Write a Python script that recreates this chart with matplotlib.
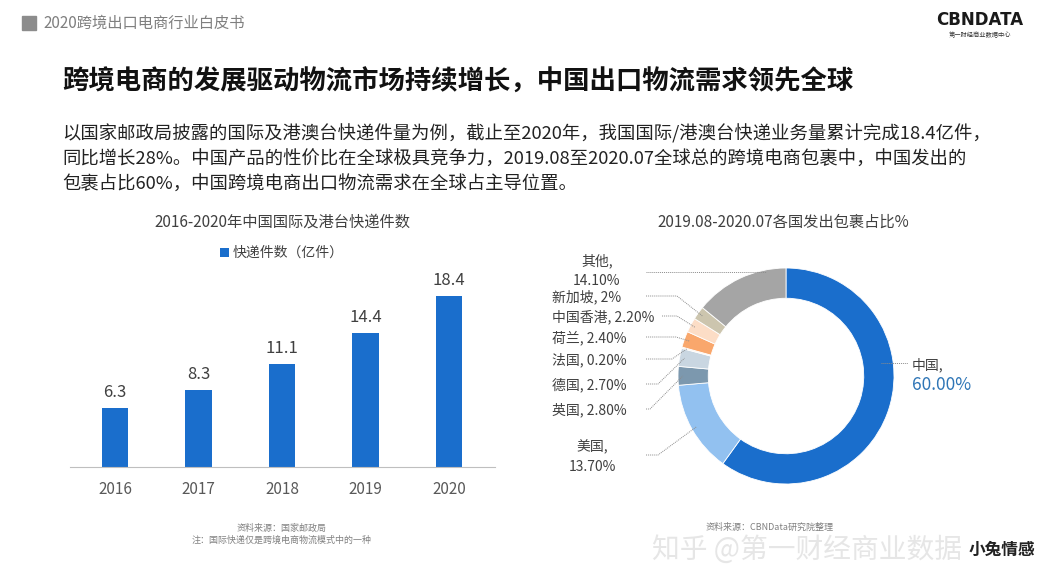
import numpy as np
import matplotlib
matplotlib.use("Agg")
import matplotlib.pyplot as plt

plt.rcParams['font.family'] = ['Noto Sans CJK SC', 'DejaVu Sans']

W, H = 1046, 580

# ----- data -----
years = ['2016', '2017', '2018', '2019', '2020']
parcels = [6.3, 8.3, 11.1, 14.4, 18.4]

countries = ['中国', '美国', '英国', '德国', '法国', '荷兰', '中国香港', '新加坡', '其他']
shares = [60.0, 13.7, 2.8, 2.7, 0.2, 2.4, 2.2, 2.0, 14.1]
share_labels = ['中国,\n60.00%', '美国,\n13.70%', '英国, 2.80%', '德国, 2.70%', '法国, 0.20%',
                '荷兰, 2.40%', '中国香港, 2.20%', '新加坡, 2%', '其他,\n14.10%']
colors = ['#1A6ECC', '#92C1F0', '#7C98AE', '#C9D6E1', '#F7EEE4',
          '#F9A76C', '#FCDDC6', '#CCC5AE', '#A5A5A5']

fig = plt.figure(figsize=(W / 100, H / 100), dpi=100)
fig.patch.set_facecolor('white')

# overlay axes in pixel units (y up)
ov = fig.add_axes([0, 0, 1, 1])
ov.set_xlim(0, W)
ov.set_ylim(0, H)
ov.axis('off')

def Y(y):
    return H - y

# ----- header -----
ov.add_patch(plt.Rectangle((22, Y(30)), 14, 14, color='#8C8C8C'))
ov.text(43, Y(23), '2020跨境出口电商行业白皮书', fontsize=11, color='#7F7F7F', va='center')
ov.text(980, Y(20), 'CBNDATA', fontsize=12, fontweight='bold', color='#1A1A1A',
        ha='center', va='center', family='DejaVu Sans')
ov.text(980, Y(35), '第一财经商业数据中心', fontsize=4.5, color='#333333', ha='center', va='center')

ov.text(62, Y(82), '跨境电商的发展驱动物流市场持续增长，中国出口物流需求领先全球',
        fontsize=19, fontweight='bold', color='#111111', va='center')

para = ['以国家邮政局披露的国际及港澳台快递件量为例，截止至2020年，我国国际/港澳台快递业务量累计完成18.4亿件，',
        '同比增长28%。中国产品的性价比在全球极具竞争力，2019.08至2020.07全球总的跨境电商包裹中，中国发出的',
        '包裹占比60%，中国跨境电商出口物流需求在全球占主导位置。']
for i, line in enumerate(para):
    ov.text(62, Y(134 + 25.5 * i), line, fontsize=13.2, color='#222222', va='center')

# ----- bar chart -----
ax = fig.add_axes([70 / W, 1 - 467 / H, 425 / W, 207 / H])
x = np.arange(len(years))
bars = ax.bar(x, parcels, width=0.32, color='#1A6ECC', label='快递件数（亿件）', zorder=2)
for xi, v in zip(x, parcels):
    ax.annotate(f'{v}', (xi, v), xytext=(0, 5), textcoords='offset points',
                ha='center', va='bottom', fontsize=12, color='#404040')
ax.set_xlim(-0.54, 4.55)
ax.set_ylim(0, 207 / 9.3)
ax.set_xticks(x)
ax.set_xticklabels(years, fontsize=11, color='#595959')
ax.tick_params(axis='x', length=0, pad=10)
ax.set_yticks([])
for s in ['top', 'right', 'left']:
    ax.spines[s].set_visible(False)
ax.spines['bottom'].set_color('#BFBFBF')
ax.patch.set_alpha(0)
ax.legend(loc='center', bbox_to_anchor=(282 / W, 1 - 253 / H), bbox_transform=fig.transFigure,
          frameon=False, fontsize=10, handlelength=0.6, handleheight=0.6, handletextpad=0.3,
          labelcolor='#404040')

ov.text(282, Y(222), '2016-2020年中国国际及港台快递件数', fontsize=11, color='#404040',
        ha='center', va='center')
ov.text(282, Y(528), '资料来源：国家邮政局', fontsize=6.5, color='#808080', ha='center', va='center')
ov.text(282, Y(540), '注：国际快递仅是跨境电商物流模式中的一种', fontsize=6.5, color='#808080',
        ha='center', va='center')

# ----- donut -----
cx, cy, R = 786, 376, 108
ov.text(783, Y(222), '2019.08-2020.07各国发出包裹占比%', fontsize=11, color='#404040',
        ha='center', va='center')
wedges, _ = ov.pie(shares, colors=colors, startangle=90, counterclock=False,
                   center=(cx, Y(cy)), radius=R, frame=True,
                   wedgeprops=dict(width=R * 0.28, edgecolor='white', linewidth=0.6))
ov.set_xlim(0, W)
ov.set_ylim(0, H)
ov.set_aspect('auto')
ov.axis('off')

# label layout: (text x, text y, ha, line start x, elbow x or None, anchor mode)
layout = {
    '中国': (912, 374, 'left', 882, None, 'h'),
    '美国': (592, 457, 'center', 646, 658, 'm'),
    '英国': (552, 410, 'left', 646, 650, 'm'),
    '德国': (552, 385, 'left', 646, 658, 'm'),
    '法国': (552, 360, 'left', 646, 672, 'm'),
    '荷兰': (552, 338, 'left', 646, 676, 'm'),
    '中国香港': (552, 317, 'left', 662, 677, 'm'),
    '新加坡': (552, 297, 'left', 646, 677, 'm'),
    '其他': (597, 271, 'center', 646, None, 'h'),
}
line_y = {'中国': 363, '美国': 455, '其他': 272}

for w, name, lab in zip(wedges, countries, share_labels):
    tx, ty, ha, sx, ex, mode = layout[name]
    ly = line_y.get(name, ty - 1)
    if name == '中国':
        ov.text(tx, Y(365), '中国,', fontsize=10, color='#404040', va='center', ha='left')
        ov.text(tx, Y(385), '60.00%', fontsize=12.5, color='#2E75B6', va='center', ha='left')
    else:
        ov.text(tx, Y(ty), lab, fontsize=10, color='#404040', va='center', ha=ha,
                linespacing=1.5, multialignment='center')
    if mode == 'h':
        r = 106
        dy = cy - ly
        dx = np.sqrt(max(r ** 2 - dy ** 2, 0))
        if name == '中国':
            xs, ys = [cx + 95, 908], [ly, ly]
        else:
            xs, ys = [sx, cx - dx], [ly, ly]
    else:
        ang = np.deg2rad((w.theta1 + w.theta2) / 2)
        r = 103
        axp, ayp = cx + r * np.cos(ang), cy - r * np.sin(ang)
        xs, ys = [sx, ex, axp], [ly, ly, ayp]
    ov.plot(xs, [Y(v) for v in ys], color='#8C8C8C', lw=0.7, ls=(0, (1, 1)), zorder=5)

ov.text(770, Y(527), '资料来源：CBNData研究院整理', fontsize=6.5, color='#808080',
        ha='center', va='center')
ov.text(652, Y(550), '知乎 @第一财经商业数据', fontsize=20, color='#E6E6E6', va='center', zorder=0)
ov.text(1002, Y(550), '小兔情感', fontsize=12, fontweight='bold', color='#222222',
        ha='center', va='center')

fig.savefig('out.png', dpi=100, facecolor='white')
